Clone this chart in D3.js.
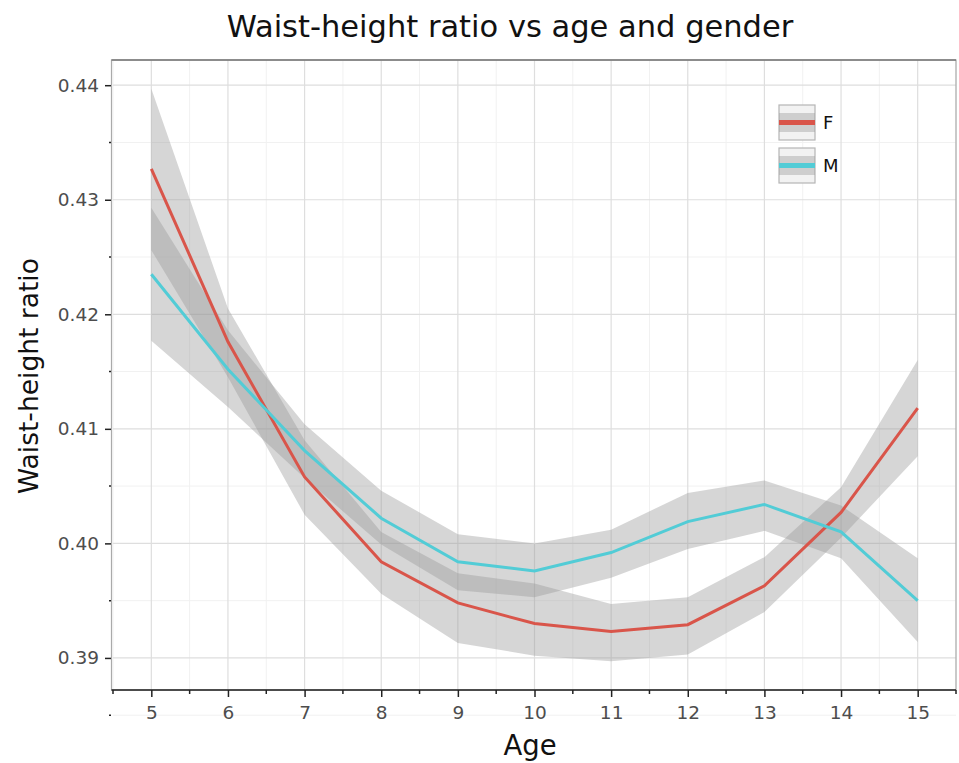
<!DOCTYPE html>
<html lang="en">
<head>
<meta charset="utf-8">
<title>Waist-height ratio vs age and gender</title>
<script src="https://d3js.org/d3.v7.min.js"></script>
<style>
  body { margin: 0; background: #fff; }
  svg { display: block; font-family: "DejaVu Sans", sans-serif; }
  .tick text { fill: #4d4d4d; }
</style>
</head>
<body>
<script>
// ages on the x axis
const ages = [5, 6, 7, 8, 9, 10, 11, 12, 13, 14, 15];

// F: mean and ribbon
const fMean  = [0.4327, 0.4176, 0.4058, 0.3984, 0.3948, 0.3930, 0.3923, 0.3929, 0.3963, 0.4027, 0.4118];
const fLower = [0.4256, 0.4145, 0.4025, 0.3956, 0.3913, 0.3902, 0.3897, 0.3903, 0.3940, 0.4005, 0.4076];
const fUpper = [0.4397, 0.4205, 0.4090, 0.4010, 0.3974, 0.3965, 0.3947, 0.3953, 0.3988, 0.4049, 0.4160];

// M: mean and ribbon
const mMean  = [0.4235, 0.4152, 0.4081, 0.4022, 0.3984, 0.3976, 0.3992, 0.4019, 0.4034, 0.4010, 0.3950];
const mLower = [0.4177, 0.4119, 0.4057, 0.3999, 0.3959, 0.3953, 0.3970, 0.3995, 0.4011, 0.3987, 0.3914];
const mUpper = [0.4293, 0.4186, 0.4104, 0.4046, 0.4008, 0.4000, 0.4012, 0.4044, 0.4055, 0.4033, 0.3987];

const genders = ["F", "M"];
const yTicks = [0.39, 0.40, 0.41, 0.42, 0.43, 0.44];
const yMinor = [0.385, 0.395, 0.405, 0.415, 0.425, 0.435];
const xMinor = [4.5, 5.5, 6.5, 7.5, 8.5, 9.5, 10.5, 11.5, 12.5, 13.5, 14.5, 15.5];

const width = 959, height = 763;
const pLeft = 113, pRight = 956, pTop = 60, pBottom = 690;

const color = d3.scaleOrdinal().domain(genders).range(["#d9554a", "#52ccd6"]);

const x = d3.scaleLinear().domain([4.5, 15.5]).range([pLeft, pRight]);
const y = d3.scaleLinear().domain([0.3872, 0.4422]).range([pBottom, pTop]);

const svg = d3.select("body").append("svg")
    .attr("width", width)
    .attr("height", height);

// panel
svg.append("rect")
    .attr("x", pLeft).attr("y", pTop)
    .attr("width", pRight - pLeft).attr("height", pBottom - pTop)
    .attr("fill", "#fff");

const grid = svg.append("g");
grid.selectAll("line.ymin").data(yMinor.filter(v => y(v) > pTop)).join("line")
    .attr("x1", pLeft).attr("x2", pRight)
    .attr("y1", d => y(d)).attr("y2", d => y(d))
    .attr("stroke", "#f1f1f1").attr("stroke-width", 1);
grid.selectAll("line.xmin").data(xMinor).join("line")
    .attr("y1", pTop).attr("y2", pBottom)
    .attr("x1", d => x(d)).attr("x2", d => x(d))
    .attr("stroke", "#f1f1f1").attr("stroke-width", 1);
grid.selectAll("line.ymaj").data(yTicks).join("line")
    .attr("x1", pLeft).attr("x2", pRight)
    .attr("y1", d => y(d)).attr("y2", d => y(d))
    .attr("stroke", "#dedede").attr("stroke-width", 1.2);
grid.selectAll("line.xmaj").data(ages).join("line")
    .attr("y1", pTop).attr("y2", pBottom)
    .attr("x1", d => x(d)).attr("x2", d => x(d))
    .attr("stroke", "#dedede").attr("stroke-width", 1.2);

// ribbons
const series = [
  { key: "F", mean: fMean, lower: fLower, upper: fUpper },
  { key: "M", mean: mMean, lower: mLower, upper: mUpper }
];

const area = d3.area()
    .x((d, i) => x(ages[i]))
    .y0(d => y(d[0]))
    .y1(d => y(d[1]));

svg.append("g").selectAll("path").data(series).join("path")
    .attr("d", s => area(s.lower.map((v, i) => [v, s.upper[i]])))
    .attr("fill", "#999")
    .attr("fill-opacity", 0.4);

const line = d3.line()
    .x((d, i) => x(ages[i]))
    .y(d => y(d));

svg.append("g").selectAll("path").data(series).join("path")
    .attr("d", s => line(s.mean))
    .attr("fill", "none")
    .attr("stroke", s => color(s.key))
    .attr("stroke-width", 3);

// panel border
svg.append("rect")
    .attr("x", pLeft - 1.5).attr("y", pTop)
    .attr("width", pRight - pLeft + 1.5).attr("height", pBottom - pTop)
    .attr("fill", "none")
    .attr("stroke", "#aaa").attr("stroke-width", 1.2);
svg.append("line")
    .attr("x1", pLeft - 1.5).attr("x2", pRight)
    .attr("y1", pTop).attr("y2", pTop)
    .attr("stroke", "#777").attr("stroke-width", 1.5);

// x axis
const xAxis = svg.append("g")
    .attr("transform", `translate(0,${pBottom})`)
    .call(d3.axisBottom(x).tickValues(ages).tickFormat(d3.format("d")).tickSize(7).tickPadding(9));
xAxis.select(".domain").attr("stroke", "#222").attr("stroke-width", 1.5)
    .attr("d", `M${pLeft - 1.5},0H${pRight}`);
xAxis.selectAll(".tick line").attr("stroke", "#222").attr("stroke-width", 1.5);
xAxis.selectAll(".tick text").attr("font-size", 18.5).attr("font-family", "DejaVu Sans");

svg.append("g")
    .attr("transform", `translate(0,${pBottom})`)
    .selectAll("line").data(xMinor).join("line")
    .attr("x1", d => x(d)).attr("x2", d => x(d))
    .attr("y1", 0).attr("y2", 4)
    .attr("stroke", "#222").attr("stroke-width", 1.5);

// y axis
const yAxis = svg.append("g")
    .attr("transform", `translate(${pLeft - 2},0)`)
    .call(d3.axisLeft(y).tickValues(yTicks).tickFormat(d3.format(".2f")).tickSize(6).tickPadding(6));
yAxis.select(".domain").remove();
yAxis.selectAll(".tick line").attr("stroke", "#222").attr("stroke-width", 1.5);
yAxis.selectAll(".tick text").attr("font-size", 18.5).attr("font-family", "DejaVu Sans");

svg.append("g")
    .selectAll("line").data(yMinor.filter(v => y(v) > pTop)).join("line")
    .attr("x1", pLeft - 4).attr("x2", pLeft - 2)
    .attr("y1", d => y(d)).attr("y2", d => y(d))
    .attr("stroke", "#222").attr("stroke-width", 1.5);

// titles
svg.append("text")
    .attr("x", 510).attr("y", 37)
    .attr("text-anchor", "middle")
    .attr("font-size", 30.5)
    .attr("fill", "#111")
    .text("Waist-height ratio vs age and gender");

svg.append("text")
    .attr("x", 530).attr("y", 755)
    .attr("text-anchor", "middle")
    .attr("font-size", 27.5)
    .attr("fill", "#111")
    .text("Age");

svg.append("text")
    .attr("transform", `translate(38,${376}) rotate(-90)`)
    .attr("text-anchor", "middle")
    .attr("font-size", 26.5)
    .attr("fill", "#111")
    .text("Waist-height ratio");

// legend
const legend = svg.append("g").attr("transform", "translate(779,105)");
const key = legend.selectAll("g").data(genders).join("g")
    .attr("transform", (d, i) => `translate(0,${i * 43})`);
key.append("rect")
    .attr("width", 36).attr("height", 35)
    .attr("fill", "#f2f2f2").attr("stroke", "#b5b5b5").attr("stroke-width", 1.2);
key.append("rect")
    .attr("y", 8).attr("width", 36).attr("height", 19)
    .attr("fill", "#999").attr("fill-opacity", 0.4);
key.append("line")
    .attr("x1", 0).attr("x2", 36)
    .attr("y1", 17.5).attr("y2", 17.5)
    .attr("stroke", d => color(d)).attr("stroke-width", 5);
key.append("text")
    .attr("x", 44).attr("y", 24)
    .attr("font-size", 18)
    .attr("fill", "#111")
    .text(d => d);
</script>
</body>
</html>
